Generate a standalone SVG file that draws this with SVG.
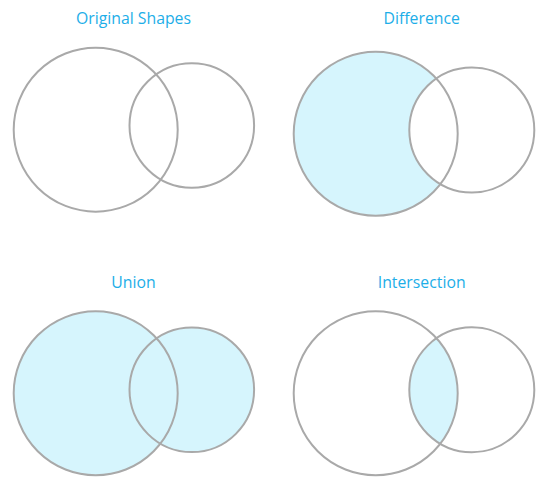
<svg xmlns="http://www.w3.org/2000/svg" width="548" height="484" viewBox="0 0 548 484">
  <style>
    .title { font-family: "Open Sans", Lato, sans-serif; font-size: 15.8px; fill: #1DAEE8; text-anchor: middle; }
    .ring { fill: none; stroke: #A9A9A9; stroke-width: 2; }
    .fill { fill: #D6F5FD; stroke: none; }
  </style>
  <defs>
    <mask id="diffMask" maskUnits="userSpaceOnUse" x="0" y="0" width="548" height="484">
      <rect x="0" y="0" width="548" height="484" fill="#fff"/>
      <circle cx="471.8" cy="130" r="62.5" fill="#000"/>
    </mask>
    <clipPath id="interClip">
      <circle cx="375.7" cy="393.3" r="82"/>
    </clipPath>
  </defs>
  <rect width="548" height="484" fill="#fff"/>

  <g id="original">
    <text class="title" x="133.5" y="24">Original Shapes</text>
    <circle class="ring" cx="95.7" cy="129.7" r="82"/>
    <circle class="ring" cx="191.8" cy="125.5" r="62.3"/>
  </g>

  <g id="difference">
    <text class="title" x="421.7" y="24">Difference</text>
    <circle class="fill" cx="375.7" cy="133.8" r="82" mask="url(#diffMask)"/>
    <circle class="ring" cx="375.7" cy="133.8" r="82"/>
    <circle class="ring" cx="471.8" cy="130" r="62.5"/>
  </g>

  <g id="union">
    <text class="title" x="133.5" y="288">Union</text>
    <circle class="fill" cx="95.7" cy="393.3" r="82"/>
    <circle class="fill" cx="191.8" cy="389.8" r="62.3"/>
    <circle class="ring" cx="95.7" cy="393.3" r="82"/>
    <circle class="ring" cx="191.8" cy="389.8" r="62.3"/>
  </g>

  <g id="intersection">
    <text class="title" x="421.7" y="288">Intersection</text>
    <circle class="fill" cx="471.8" cy="389.8" r="62.5" clip-path="url(#interClip)"/>
    <circle class="ring" cx="375.7" cy="393.3" r="82"/>
    <circle class="ring" cx="471.8" cy="389.8" r="62.5"/>
  </g>

  <g id="connectors"></g>
</svg>
